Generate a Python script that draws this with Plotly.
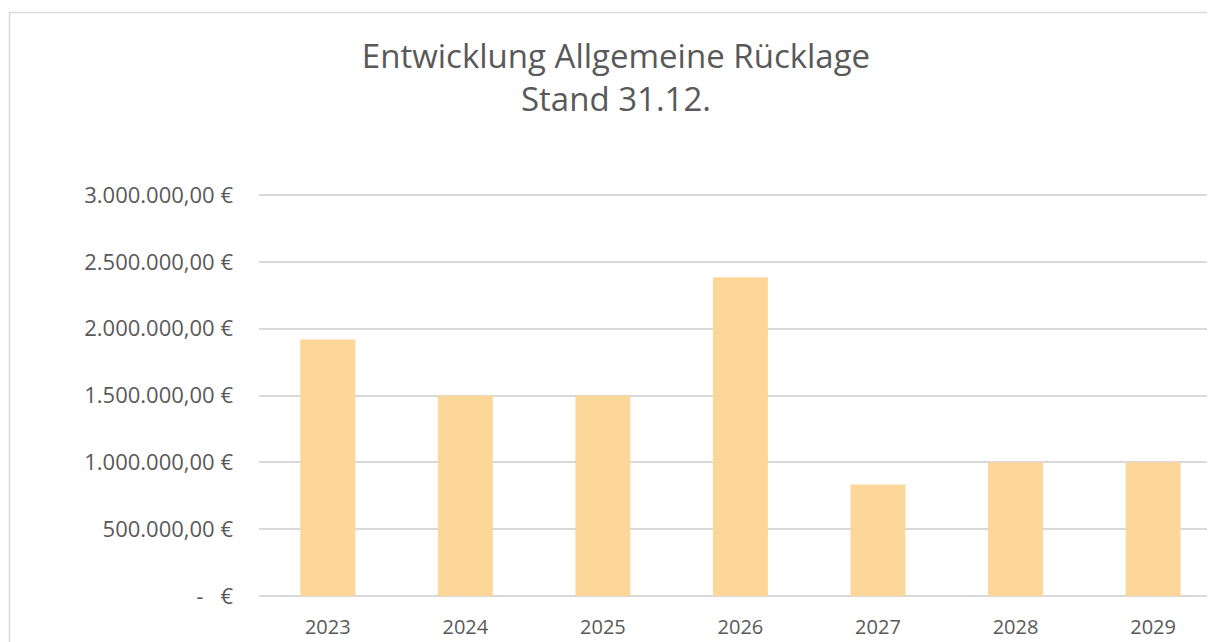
import plotly.graph_objects as go

years = ["2023", "2024", "2025", "2026", "2027", "2028", "2029"]
ruecklage = [1920000, 1500000, 1500000, 2385000, 835000, 1000000, 1000000]
y_tick_values = [0, 500000, 1000000, 1500000, 2000000, 2500000, 3000000]
y_tick_labels = ["-\u00a0\u00a0\u00a0€", "500.000,00 €", "1.000.000,00 €", "1.500.000,00 €",
                 "2.000.000,00 €", "2.500.000,00 €", "3.000.000,00 €"]

# the page body has an 8px margin, so the figure is sized to fill the rest of the window
OFF = 8
W, H = 1215 - OFF, 642 - OFF
ml, mr, mt, mb = 259 - OFF, 0, 194 - OFF, 46
pw, ph = W - ml - mr, H - mt - mb

text_color = "#595959"
grid_color = "#D9D9D9"

fig = go.Figure(go.Bar(x=years, y=ruecklage, marker_color="#FDD69A", marker_line_width=0))

fig.update_layout(
    width=W, height=H,
    margin=dict(l=ml, r=mr, t=mt, b=mb, pad=0),
    paper_bgcolor="white", plot_bgcolor="white",
    bargap=0.6,
    showlegend=False,
    font=dict(family="Open Sans", color=text_color, size=22),
    title=dict(text="Entwicklung Allgemeine Rücklage<br>Stand 31.12.",
               x=608 / W, xanchor="center", y=1 - 60 / H, yanchor="top",
               font=dict(family="Open Sans", size=33, color=text_color)),
)
fig.update_xaxes(range=[-0.5, 6.45], showgrid=False, showline=False, ticks="",
                 tickfont=dict(size=20, color=text_color), ticklabelstandoff=17)
fig.update_yaxes(range=[0, 3008000], tickvals=y_tick_values, ticktext=y_tick_labels,
                 showgrid=True, gridcolor=grid_color, gridwidth=1.5,
                 zeroline=True, zerolinecolor=grid_color, zerolinewidth=1.5,
                 ticks="", tickfont=dict(size=22, color=text_color), ticklabelstandoff=25)

# chart border (Excel chart area outline)
fig.add_shape(type="rect", xref="paper", yref="paper",
              x0=(9.5 - OFF - ml) / pw, x1=(W + 5 - ml) / pw,
              y0=-(H + 5 - mt - ph) / ph, y1=1 + (mt - (12.5 - OFF)) / ph,
              line=dict(color=grid_color, width=1.5), layer="below")

fig.write_html("out.html")
